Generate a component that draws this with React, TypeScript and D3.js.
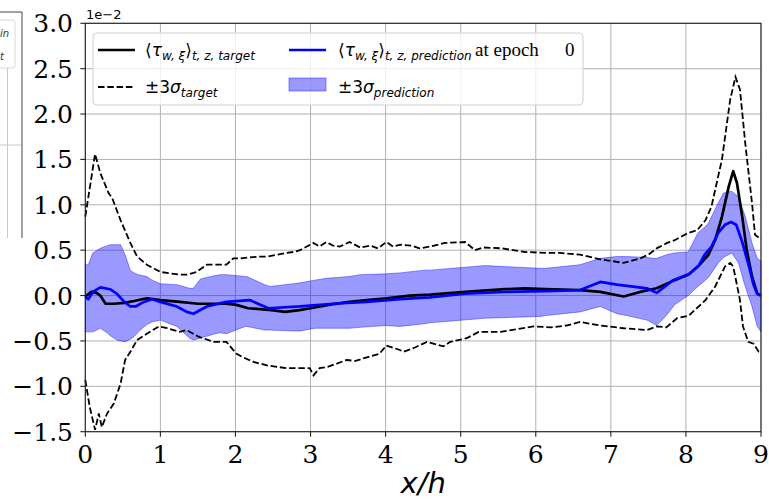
import React from "react";
import * as d3 from "d3";

// ---- data (values in units of 1e-2) ----
const xTicks = [0, 1, 2, 3, 4, 5, 6, 7, 8, 9];
const yTicks = [-1.5, -1.0, -0.5, 0.0, 0.5, 1.0, 1.5, 2.0, 2.5, 3.0];

const targetMeanX = [0, 0.08, 0.15, 0.2, 0.27, 0.38, 0.52, 0.65, 0.82, 1.0, 1.26, 1.5, 1.86, 2.0, 2.17, 2.48, 2.66, 2.85, 3.0, 3.26, 3.52, 3.75, 4.01, 4.32, 4.59, 5.06, 5.59, 5.86, 6.13, 6.59, 6.86, 7.17, 7.39, 7.61, 7.85, 8.03, 8.16, 8.3, 8.39, 8.48, 8.57, 8.63, 8.68, 8.75, 8.81, 8.88, 8.95, 9.0];
const targetMeanY = [-0.01, 0.04, 0.03, 0.0, -0.09, -0.09, -0.08, -0.06, -0.03, -0.05, -0.07, -0.09, -0.09, -0.10, -0.14, -0.16, -0.18, -0.16, -0.14, -0.10, -0.07, -0.05, -0.03, 0.0, 0.01, 0.04, 0.07, 0.08, 0.07, 0.06, 0.04, -0.01, 0.04, 0.08, 0.17, 0.23, 0.32, 0.45, 0.61, 0.87, 1.20, 1.37, 1.24, 0.87, 0.50, 0.21, 0.02, 0.0];

const predMeanX = [0, 0.04, 0.1, 0.2, 0.33, 0.42, 0.52, 0.6, 0.67, 0.78, 0.89, 1.0, 1.22, 1.35, 1.44, 1.62, 1.88, 2.19, 2.3, 2.44, 2.86, 3.3, 3.75, 4.19, 4.59, 5.06, 5.59, 6.13, 6.59, 6.86, 7.08, 7.48, 7.61, 7.83, 8.05, 8.17, 8.25, 8.34, 8.43, 8.52, 8.6, 8.67, 8.75, 8.84, 8.9, 8.95, 9.0];
const predMeanY = [-0.01, -0.04, 0.04, 0.09, 0.07, 0.02, -0.07, -0.12, -0.12, -0.07, -0.04, -0.07, -0.12, -0.18, -0.20, -0.12, -0.07, -0.05, -0.09, -0.14, -0.12, -0.09, -0.07, -0.04, -0.02, 0.02, 0.04, 0.05, 0.06, 0.15, 0.12, 0.08, 0.03, 0.17, 0.24, 0.33, 0.45, 0.54, 0.69, 0.78, 0.81, 0.78, 0.59, 0.32, 0.12, 0.02, 0.0];

const targetUpperX = [0, 0.13, 0.2, 0.31, 0.36, 0.47, 0.6, 0.69, 0.82, 1.0, 1.26, 1.35, 1.48, 1.62, 1.71, 1.88, 1.97, 2.06, 2.33, 2.42, 2.68, 2.77, 2.86, 3.04, 3.12, 3.21, 3.3, 3.39, 3.52, 3.66, 3.8, 3.9, 4.01, 4.1, 4.2, 4.35, 4.45, 4.59, 4.79, 5.06, 5.19, 5.3, 5.55, 5.7, 5.86, 6.13, 6.32, 6.59, 6.86, 7.17, 7.39, 7.5, 7.61, 7.75, 7.85, 8.03, 8.15, 8.26, 8.34, 8.48, 8.59, 8.66, 8.72, 8.79, 8.88, 8.92, 9.0];
const targetUpperY = [0.87, 1.56, 1.35, 1.13, 1.07, 0.83, 0.58, 0.43, 0.34, 0.26, 0.23, 0.23, 0.26, 0.34, 0.34, 0.34, 0.41, 0.41, 0.43, 0.43, 0.47, 0.48, 0.50, 0.58, 0.54, 0.59, 0.55, 0.54, 0.59, 0.53, 0.55, 0.52, 0.59, 0.54, 0.56, 0.55, 0.52, 0.54, 0.58, 0.59, 0.50, 0.53, 0.52, 0.50, 0.48, 0.47, 0.47, 0.45, 0.40, 0.36, 0.41, 0.45, 0.52, 0.58, 0.61, 0.69, 0.72, 0.83, 0.98, 1.5, 2.16, 2.41, 2.27, 1.68, 1.02, 0.67, 0.62];

const targetLowerX = [0, 0.06, 0.13, 0.18, 0.22, 0.29, 0.38, 0.47, 0.53, 0.6, 0.69, 0.82, 0.98, 1.09, 1.26, 1.35, 1.5, 1.71, 1.88, 2.01, 2.1, 2.24, 2.42, 2.68, 2.99, 3.04, 3.12, 3.21, 3.35, 3.48, 3.6, 3.75, 3.92, 4.01, 4.19, 4.24, 4.37, 4.55, 4.77, 4.86, 5.08, 5.24, 5.52, 5.75, 5.97, 6.2, 6.41, 6.59, 6.86, 7.17, 7.48, 7.61, 7.74, 7.88, 8.04, 8.26, 8.39, 8.52, 8.59, 8.63, 8.72, 8.76, 8.83, 8.9, 8.97, 9.0];
const targetLowerY = [-0.93, -1.23, -1.48, -1.30, -1.45, -1.30, -1.19, -0.97, -0.71, -0.62, -0.49, -0.42, -0.34, -0.36, -0.40, -0.38, -0.45, -0.51, -0.51, -0.64, -0.68, -0.73, -0.77, -0.80, -0.80, -0.88, -0.80, -0.79, -0.75, -0.71, -0.72, -0.68, -0.64, -0.55, -0.60, -0.62, -0.58, -0.51, -0.56, -0.51, -0.47, -0.40, -0.40, -0.37, -0.34, -0.35, -0.33, -0.29, -0.33, -0.36, -0.38, -0.34, -0.35, -0.25, -0.22, -0.05, 0.10, 0.32, 0.36, 0.32, -0.05, -0.34, -0.51, -0.53, -0.62, -0.63];

const predBandX = [0, 0.04, 0.1, 0.2, 0.29, 0.33, 0.42, 0.47, 0.53, 0.6, 0.65, 0.71, 0.76, 0.82, 0.89, 1.0, 1.22, 1.39, 1.44, 1.53, 1.57, 1.73, 1.8, 1.88, 2.13, 2.15, 2.39, 2.46, 2.77, 2.86, 3.06, 3.21, 3.52, 3.66, 4.01, 4.19, 4.52, 4.59, 5.32, 6.06, 6.13, 6.59, 6.86, 7.08, 7.21, 7.48, 7.57, 7.61, 7.74, 7.85, 8.03, 8.16, 8.26, 8.3, 8.43, 8.5, 8.61, 8.7, 8.79, 8.88, 8.95, 9.0];
const predBandHi = [0.34, 0.34, 0.47, 0.52, 0.55, 0.56, 0.56, 0.56, 0.45, 0.28, 0.25, 0.23, 0.22, 0.21, 0.17, 0.13, 0.12, 0.08, 0.08, 0.18, 0.19, 0.22, 0.23, 0.23, 0.21, 0.21, 0.12, 0.10, 0.13, 0.14, 0.17, 0.19, 0.21, 0.23, 0.24, 0.25, 0.28, 0.28, 0.33, 0.30, 0.30, 0.34, 0.41, 0.43, 0.43, 0.42, 0.41, 0.41, 0.45, 0.47, 0.48, 0.69, 0.76, 0.80, 1.02, 1.13, 1.15, 1.09, 0.87, 0.58, 0.41, 0.38];
const predBandLo = [-0.40, -0.40, -0.40, -0.36, -0.41, -0.44, -0.49, -0.50, -0.51, -0.48, -0.45, -0.40, -0.36, -0.32, -0.29, -0.27, -0.34, -0.47, -0.49, -0.47, -0.46, -0.42, -0.41, -0.42, -0.34, -0.34, -0.38, -0.38, -0.39, -0.39, -0.36, -0.36, -0.36, -0.35, -0.33, -0.34, -0.31, -0.30, -0.25, -0.23, -0.22, -0.18, -0.12, -0.20, -0.22, -0.27, -0.31, -0.33, -0.22, -0.10, 0.0, 0.10, 0.17, 0.20, 0.36, 0.42, 0.47, 0.36, 0.10, -0.12, -0.34, -0.40];

const W = 769;
const H = 502;
const M = { left: 85.3, right: 761, top: 23.3, bottom: 431.7 };

const zip = (xs: number[], ys: number[]) => xs.map((x, i) => [x, ys[i]] as [number, number]);

export default function App() {
  const x = d3.scaleLinear().domain([0, 9]).range([M.left, M.right]);
  const y = d3.scaleLinear().domain([-1.5, 3.0]).range([M.bottom, M.top]);
  const line = d3.line<[number, number]>().x((d) => x(d[0])).y((d) => y(d[1]));
  const area = d3
    .area<number>()
    .x((_, i) => x(predBandX[i]))
    .y0((_, i) => y(predBandLo[i]))
    .y1((_, i) => y(predBandHi[i]));

  const serif = "'DejaVu Serif', serif";
  const times = "'Liberation Serif', serif";
  const sans = "'DejaVu Sans', sans-serif";
  const sub = 12;
  const dash = "6.5,2.8";

  return (
    <svg width={W} height={H} style={{ position: "absolute", left: 0, top: 0, background: "#fff" }}>
      <rect x={0} y={0} width={W} height={H} fill="#fff" />
      {/* clipped neighbour figure on the left */}
      <g>
        <line x1={7.5} x2={7.5} y1={68} y2={238} stroke="#c8c8c8" strokeWidth={1} />
        <line x1={0} x2={22} y1={145} y2={145} stroke="#c8c8c8" strokeWidth={1} />
        <rect x={-20} y={20} width={35} height={48} rx={3} fill="#fff" stroke="#d8d8d8" strokeWidth={1} />
        <text x={0} y={37} fontFamily={sans} fontSize={10} fontStyle="italic" fill="#333">in</text>
        <text x={0} y={60} fontFamily={sans} fontSize={10} fontStyle="italic" fill="#333">t</text>
        <line x1={22} x2={22} y1={12} y2={238} stroke="#444" strokeWidth={1} />
        <line x1={0} x2={22} y1={12} y2={12} stroke="#444" strokeWidth={1} />
      </g>

      {/* grid */}
      <g stroke="#b0b0b0" strokeWidth={1}>
        {xTicks.map((t) => (
          <line key={"gx" + t} x1={x(t)} x2={x(t)} y1={M.top} y2={M.bottom} />
        ))}
        {yTicks.map((t) => (
          <line key={"gy" + t} x1={M.left} x2={M.right} y1={y(t)} y2={y(t)} />
        ))}
      </g>

      {/* prediction band */}
      <path d={area(predBandX) || ""} fill="#0000ff" fillOpacity={0.4} stroke="#0000ff" strokeOpacity={0.4} strokeWidth={1} />

      {/* target mean */}
      <path d={line(zip(targetMeanX, targetMeanY)) || ""} fill="none" stroke="#000" strokeWidth={2.7} strokeLinejoin="round" />
      {/* target +- 3 sigma */}
      <path d={line(zip(targetUpperX, targetUpperY)) || ""} fill="none" stroke="#000" strokeWidth={1.8} strokeDasharray={dash} />
      <path d={line(zip(targetLowerX, targetLowerY)) || ""} fill="none" stroke="#000" strokeWidth={1.8} strokeDasharray={dash} />
      {/* prediction mean */}
      <path d={line(zip(predMeanX, predMeanY)) || ""} fill="none" stroke="#0000ff" strokeWidth={2.7} strokeLinejoin="round" />

      {/* spines */}
      <rect x={M.left} y={M.top} width={M.right - M.left} height={M.bottom - M.top} fill="none" stroke="#222" strokeWidth={1.1} />

      {/* ticks and labels */}
      {xTicks.map((t) => (
        <g key={"tx" + t}>
          <line x1={x(t)} x2={x(t)} y1={M.bottom} y2={M.bottom + 5} stroke="#222" strokeWidth={1.1} />
          <text x={x(t)} y={463} textAnchor="middle" fontFamily={serif} fontSize={25} fill="#000">
            {String(t)}
          </text>
        </g>
      ))}
      {yTicks.map((t) => (
        <g key={"ty" + t}>
          <line x1={M.left - 5} x2={M.left} y1={y(t)} y2={y(t)} stroke="#222" strokeWidth={1.1} />
          <text x={73} y={y(t) + 9} textAnchor="end" fontFamily={serif} fontSize={25} fill="#000">
            {(t < 0 ? "\u2212" : "") + Math.abs(t).toFixed(1)}
          </text>
        </g>
      ))}
      <text x={86} y={18.5} fontFamily={sans} fontSize={13} fill="#000">1e−2</text>
      <text x={(M.left + M.right) / 2} y={493} textAnchor="middle" fontFamily={sans} fontStyle="italic" fontSize={29} fill="#000">
        x/h
      </text>

      {/* legend */}
      <g>
        <rect x={93} y={33} width={490} height={72} rx={4} fill="#fff" fillOpacity={0.8} stroke="#d0d0d0" strokeWidth={1} />
        <line x1={98} x2={135} y1={50} y2={50} stroke="#000" strokeWidth={2.7} />
        <line x1={98} x2={135} y1={87} y2={87} stroke="#000" strokeWidth={1.8} strokeDasharray={dash} />
        <line x1={289} x2={326} y1={50} y2={50} stroke="#0000ff" strokeWidth={2.7} />
        <rect x={289} y={78} width={37} height={13} fill="#0000ff" fillOpacity={0.4} stroke="#0000ff" strokeOpacity={0.4} strokeWidth={1} />

        <text x={145} y={56} fontFamily={sans} fontSize={17} fill="#000">
          <tspan>⟨</tspan>
          <tspan fontStyle="italic">τ</tspan>
          <tspan fontStyle="italic" fontSize={sub} dy={4}>w, ξ</tspan>
          <tspan dy={-4}>⟩</tspan>
          <tspan fontStyle="italic" fontSize={sub} dy={4}>t, z, target</tspan>
        </text>
        <text x={145} y={93} fontFamily={sans} fontSize={17} fill="#000">
          <tspan>±3</tspan>
          <tspan fontStyle="italic">σ</tspan>
          <tspan fontStyle="italic" fontSize={sub} dy={4}>target</tspan>
        </text>
        <text x={338} y={56} fontFamily={sans} fontSize={17} fill="#000">
          <tspan>⟨</tspan>
          <tspan fontStyle="italic">τ</tspan>
          <tspan fontStyle="italic" fontSize={sub} dy={4}>w, ξ</tspan>
          <tspan dy={-4}>⟩</tspan>
          <tspan fontStyle="italic" fontSize={sub} dy={4}>t, z, prediction</tspan>
        </text>
        <text x={475} y={56} fontFamily={times} fontSize={19} fill="#000">at epoch</text>
        <text x={565} y={56} fontFamily={times} fontSize={19} fill="#000">0</text>
        <text x={338} y={93} fontFamily={sans} fontSize={17} fill="#000">
          <tspan>±3</tspan>
          <tspan fontStyle="italic">σ</tspan>
          <tspan fontStyle="italic" fontSize={sub} dy={4}>prediction</tspan>
        </text>
      </g>
    </svg>
  );
}
